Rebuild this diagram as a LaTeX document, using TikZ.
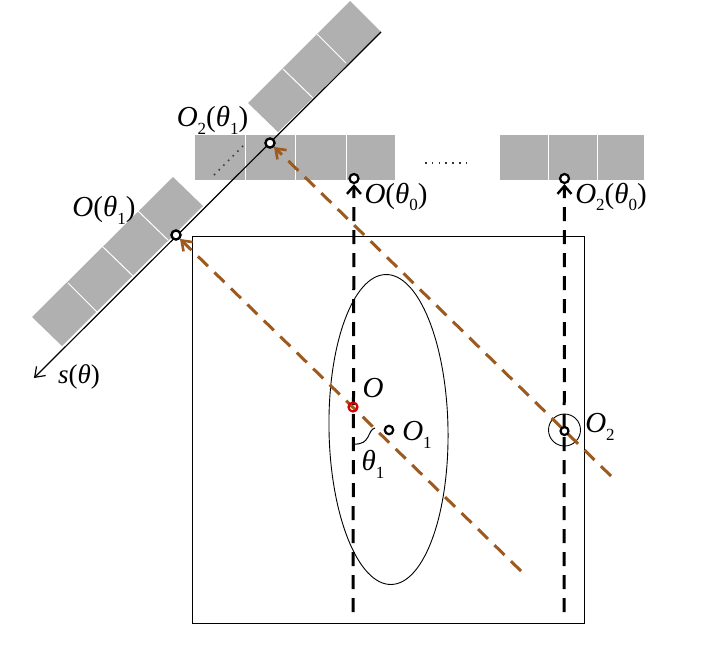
\documentclass[tikz,border=0pt]{standalone}
\usepackage{fontspec}
\setmainfont{Liberation Serif}
\usetikzlibrary{arrows.meta,shapes.geometric}
\definecolor{cellgray}{HTML}{B0B0B0}
\definecolor{rayb}{HTML}{9C5A1E}
\newcommand{\subsc}[1]{\raisebox{-0.27em}{\fontsize{17}{17}\selectfont #1}}
\newcommand{\thetaone}{\textit{θ}\subsc{1}}
\newcommand{\thetazero}{\textit{θ}\subsc{0}}
\tikzset{
  cell/.style={fill=cellgray,draw=none},
  divider/.style={draw=white,line width=1pt},
  raybrown/.style={draw=rayb,line width=3pt,dash pattern=on 14pt off 9pt,-{Straight Barb[length=9pt,width=13pt,line width=2.6pt]}},
  rayblack/.style={draw=black,line width=3pt,dash pattern=on 14pt off 9pt,-{Straight Barb[length=8pt,width=14pt,line width=2.4pt]}},
  ptmark/.style={circle,draw=black,fill=white,line width=2.2pt,inner sep=0pt,minimum size=9pt},
  ptred/.style={circle,draw=red!85!black,fill=none,line width=2.2pt,inner sep=0pt,minimum size=9pt},
  lab/.style={inner sep=0pt,font=\fontsize{29}{29}\selectfont},
  labs/.style={inner sep=0pt,font=\fontsize{27}{27}\selectfont}
}
\begin{document}
\begin{tikzpicture}[x=1pt,y=-1pt]
\useasboundingbox (0,0) rectangle (701,659);
% horizontal detector strips
\fill[cell] (195,135) rectangle (395,180);
\fill[cell] (500,135) rectangle (644,180);
\foreach \x in {245.5,295.5,346}{\draw[divider] (\x,135) -- (\x,180);}
\foreach \x in {548,597}{\draw[divider] (\x,135) -- (\x,180);}
% rotated detector strips
\fill[cell] (350,1) -- (381,32) -- (278,132) -- (248,103) -- cycle;
\fill[cell] (173,177) -- (203,206) -- (62,346) -- (32,317) -- cycle;
\draw[divider] (317,34) -- (346,63);
\draw[divider] (283,69) -- (313,98);
\draw[divider] (138,211) -- (168,240);
\draw[divider] (103,247) -- (133,276);
\draw[divider] (68,283) -- (97,312);
% frame and ellipse
\node[draw=black,line width=0.9pt,fill=none,minimum width=392pt,minimum height=387pt,inner sep=0pt] (frame) at (388,429.5) {};
\node[draw=black,line width=0.9pt,ellipse,fill=none,minimum width=119pt,minimum height=310pt,inner sep=0pt,rotate=1] (object) at (388.5,429.5) {};
% points
\node[ptmark] (Ot1) at (176,235) {};
\node[ptmark] (O2t1) at (270,143) {};
\node[ptmark] (Ot0) at (354,178.5) {};
\node[ptmark] (O2t0) at (564.5,178.5) {};
\node[ptmark,minimum size=8.5pt] (O1) at (389,430) {};
\node[circle,draw=black,line width=0.9pt,minimum size=32pt,inner sep=0pt] (O2big) at (564.5,430) {};
\coordinate (O) at (353,407);
\coordinate (O2) at (564.5,431);
% axis
\coordinate (axisTop) at (381,32);
\coordinate (axisEnd) at (34,378);
\draw[line width=1.2pt,-{Straight Barb[length=9pt,width=13pt,line width=1.2pt]}] (axisTop) -- (axisEnd);
\node[ptmark] at (Ot1) {};
\node[ptmark] at (O2t1) {};
% rays
\coordinate (b1) at (353,612);
\coordinate (b2) at (564,612);
\coordinate (r1) at (521,571);
\coordinate (r2) at (611,476);
\draw[rayblack] (b1) -- (Ot0);
\draw[rayblack] (b2) -- (O2t0);
\draw[raybrown] (r1) -- (Ot1);
\draw[raybrown] (r2) -- (O2t1);
% redraw point markers on top of lines
\node[ptred] (Ored) at (O) {};
\node[circle,draw=black,line width=2.2pt,fill=none,inner sep=0pt,minimum size=8pt] (O2pt) at (O2) {};
% angle curve
\coordinate (a1) at (354,444);
\coordinate (a2) at (375,428);
\draw[line width=1pt] (a1) .. controls (371,445) and (367,430) .. (a2);
% dotted
\coordinate (d1) at (214,175);
\coordinate (d2) at (245,144);
\draw[line width=1.6pt,dash pattern=on 1.6pt off 5pt,draw=black!75] (d1) -- (d2);
\coordinate (e1) at (425,163);
\coordinate (e2) at (469,163);
\draw[line width=1.6pt,dash pattern=on 1.6pt off 5.2pt,draw=black!80] (e1) -- (e2);
% labels
\node[lab] (lO2t1) at (212.5,120) {\textit{O}\subsc{2}(\thetaone)};
\node[lab] (lOt1) at (104,210) {\textit{O}(\thetaone)};
\node[lab] (lOt0) at (396,197) {\textit{O}(\thetazero)};
\node[lab] (lO2t0) at (611,197) {\textit{O}\subsc{2}(\thetazero)};
\node[lab] (lO) at (373,388) {\textit{O}};
\node[lab] (lO1) at (417,435) {\textit{O}\subsc{1}};
\node[lab] (lth) at (373,464) {\thetaone};
\node[lab] (lO2) at (600,427) {\textit{O}\subsc{2}};
\node[labs] (ls) at (79,377) {\textit{s}(\textit{θ})};
\end{tikzpicture}
\end{document}
